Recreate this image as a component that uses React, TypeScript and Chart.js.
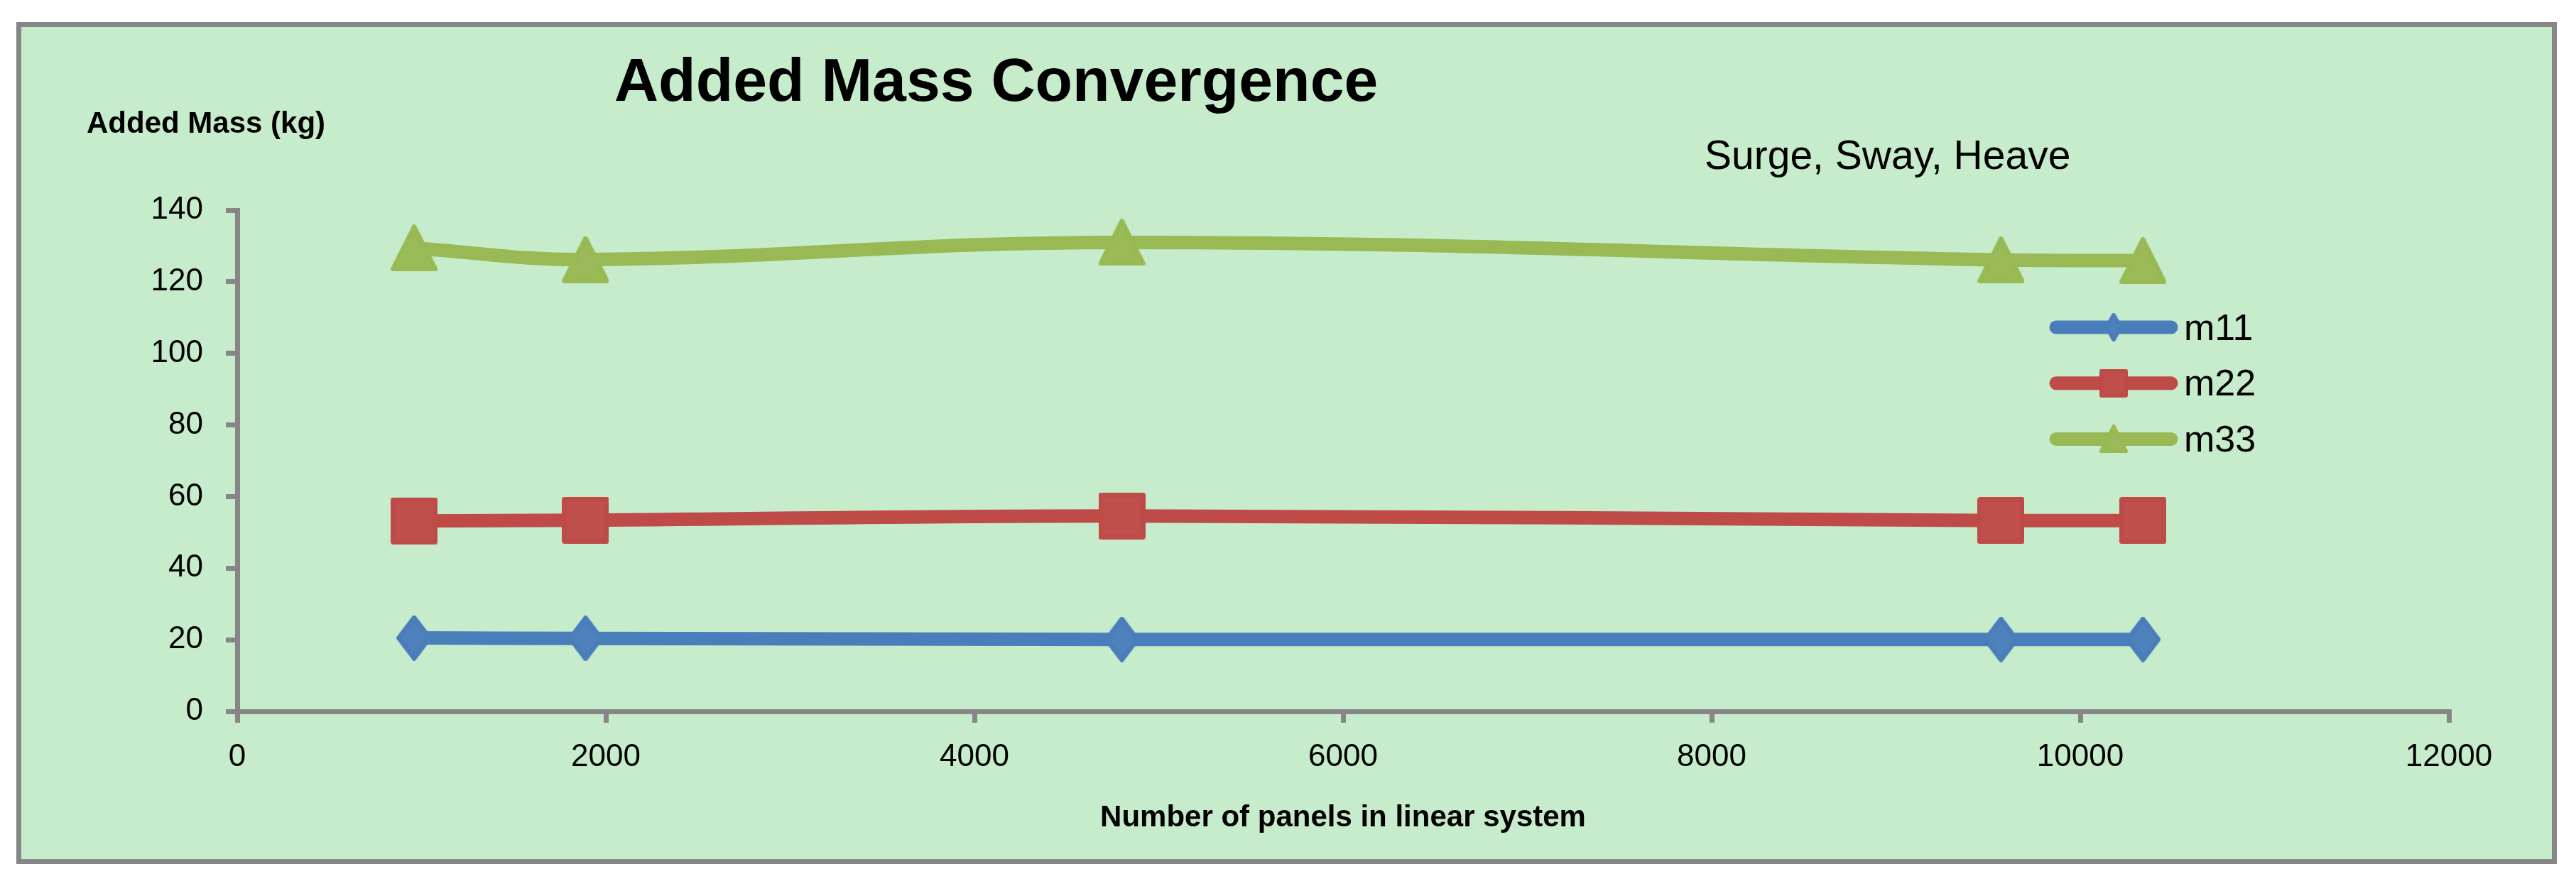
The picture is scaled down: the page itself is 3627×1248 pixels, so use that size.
import { useEffect, useRef } from "react";
import { Chart, registerables } from "chart.js";

Chart.register(...registerables);

// ---------- data ----------
const panelCounts = [960, 1890, 4800, 9570, 10340];
const m11 = [20.5, 20.4, 20.1, 20.1, 20.1];
const m22 = [53.2, 53.4, 54.6, 53.3, 53.3];
const m33 = [129.4, 126.2, 131.0, 126.1, 125.9];
const seriesNames = ["m11", "m22", "m33"];
const xRange = [0, 12000];
const xStep = 2000;
const yRange = [0, 140];
const yStep = 20;
const chartTitle = "Added Mass Convergence";
const chartSubtitle = "Surge, Sway, Heave";
const yAxisTitle = "Added Mass (kg)";
const xAxisTitle = "Number of panels in linear system";

// ---------- styles ----------
const FONT = "'Liberation Sans', Arial, sans-serif";
const AXIS = "#868686";
const BG = "#C7ECCB";
const lineColors = ["#4A7EBB", "#BE4B48", "#98B954"];
const fillColors = ["#4F81BD", "#C0504D", "#9BBB59"];
const shapes = ["diamond", "square", "triangle"];
const markerSizes = [
  [50, 64],
  [66, 66],
  [66, 66],
];
const legendMarkerSizes = [
  [25, 40],
  [40, 40],
  [40, 40],
];

function makeMarker(shape: string, w: number, h: number, fill: string, stroke: string, lw: number) {
  const c = document.createElement("canvas");
  c.width = w;
  c.height = h;
  const ctx = c.getContext("2d")!;
  const i = lw / 2;
  ctx.beginPath();
  if (shape === "diamond") {
    ctx.moveTo(w / 2, i);
    ctx.lineTo(w - i, h / 2);
    ctx.lineTo(w / 2, h - i);
    ctx.lineTo(i, h / 2);
  } else if (shape === "square") {
    ctx.rect(i, i, w - lw, h - lw);
  } else {
    ctx.moveTo(w / 2, i);
    ctx.lineTo(w - i, h - i);
    ctx.lineTo(i, h - i);
  }
  ctx.closePath();
  ctx.fillStyle = fill;
  ctx.fill();
  ctx.lineJoin = "round";
  ctx.lineWidth = lw;
  ctx.strokeStyle = stroke;
  ctx.stroke();
  return c;
}

export default function App() {
  const canvasRef = useRef<HTMLCanvasElement | null>(null);

  useEffect(() => {
    if (!canvasRef.current) return;
    const series = [m11, m22, m33];
    const chartMarkers = shapes.map((s, i) =>
      makeMarker(s, markerSizes[i][0], markerSizes[i][1], fillColors[i], lineColors[i], 7)
    );
    const legendMarkers = shapes.map((s, i) =>
      makeMarker(s, legendMarkerSizes[i][0], legendMarkerSizes[i][1], fillColors[i], lineColors[i], 6)
    );

    const textPlugin = {
      id: "texts",
      afterDraw(chart: any) {
        const ctx = chart.ctx;
        ctx.save();
        ctx.fillStyle = "#000";
        ctx.textBaseline = "alphabetic";
        ctx.textAlign = "left";
        ctx.font = `bold 86px ${FONT}`;
        ctx.fillText(chartTitle, 835, 104);
        ctx.font = `bold 42px ${FONT}`;
        ctx.fillText(yAxisTitle, 92, 149);
        ctx.font = `57px ${FONT}`;
        ctx.fillText(chartSubtitle, 2370, 200);
        ctx.restore();
      },
    };

    const legendPlugin = {
      id: "customLegend",
      afterDraw(chart: any) {
        const ctx = chart.ctx;
        ctx.save();
        chart.data.datasets.forEach((ds: any, i: number) => {
          const y = 423 + i * 78.7;
          ctx.strokeStyle = ds.borderColor;
          ctx.lineWidth = 19;
          ctx.lineCap = "round";
          ctx.beginPath();
          ctx.moveTo(2865, y);
          ctx.lineTo(3027, y);
          ctx.stroke();
          const mk = legendMarkers[i];
          ctx.drawImage(mk, 2946 - mk.width / 2, y - mk.height / 2);
          ctx.fillStyle = "#000";
          ctx.font = `52px ${FONT}`;
          ctx.textAlign = "left";
          ctx.textBaseline = "alphabetic";
          ctx.fillText(ds.label, 3045, y + 17.5);
        });
        ctx.restore();
      },
    };

    const chart = new Chart(canvasRef.current, {
      type: "line",
      data: {
        datasets: series.map((vals, i) => ({
          label: seriesNames[i],
          data: panelCounts.map((x, j) => ({ x, y: vals[j] })),
          borderColor: lineColors[i],
          backgroundColor: fillColors[i],
          borderWidth: 19,
          borderCapStyle: "round",
          borderJoinStyle: "round",
          tension: 0.4,
          fill: false,
          pointStyle: chartMarkers[i] as any,
          pointRadius: 30,
          pointHoverRadius: 30,
          clip: false as any,
        })),
      },
      options: {
        animation: false,
        responsive: true,
        maintainAspectRatio: false,
        devicePixelRatio: 1,
        events: [],
        layout: { padding: { top: 258, right: 145, left: 0, bottom: 0 } },
        plugins: {
          legend: { display: false },
          title: { display: false },
          tooltip: { enabled: false },
        },
        scales: {
          x: {
            type: "linear",
            min: xRange[0],
            max: xRange[1],
            ticks: {
              stepSize: xStep,
              color: "#000",
              font: { family: FONT, size: 44 },
              padding: 22,
              maxRotation: 0,
              autoSkip: false,
              callback: (v: any) => String(v),
            },
            grid: { drawOnChartArea: false, drawTicks: true, tickLength: 16, color: AXIS, lineWidth: 7 },
            border: { display: true, color: AXIS, width: 7 },
            title: {
              display: true,
              text: xAxisTitle,
              color: "#000",
              font: { family: FONT, size: 42, weight: "bold" },
              padding: { top: 0, bottom: 32 },
            },
            afterFit: (s: any) => {
              s.height = 208;
            },
          },
          y: {
            type: "linear",
            min: yRange[0],
            max: yRange[1],
            ticks: {
              stepSize: yStep,
              color: "#000",
              font: { family: FONT, size: 44 },
              padding: 32,
              callback: (v: any) => String(v),
            },
            grid: { drawOnChartArea: false, drawTicks: true, tickLength: 16, color: AXIS, lineWidth: 7 },
            border: { display: true, color: AXIS, width: 7 },
            afterFit: (s: any) => {
              s.width = 304;
            },
          },
        },
      } as any,
      plugins: [textPlugin, legendPlugin],
    });
    return () => chart.destroy();
  }, []);

  return (
    <div style={{ position: "fixed", left: 0, top: 0, width: 3627, height: 1248, background: "#fff" }}>
      <div
        style={{
          position: "absolute",
          left: 23,
          top: 31,
          width: 3577,
          height: 1186,
          boxSizing: "border-box",
          border: `7px solid ${AXIS}`,
          background: BG,
        }}
      >
        <div style={{ position: "relative", width: 3563, height: 1172 }}>
          <canvas ref={canvasRef} />
        </div>
      </div>
    </div>
  );
}
